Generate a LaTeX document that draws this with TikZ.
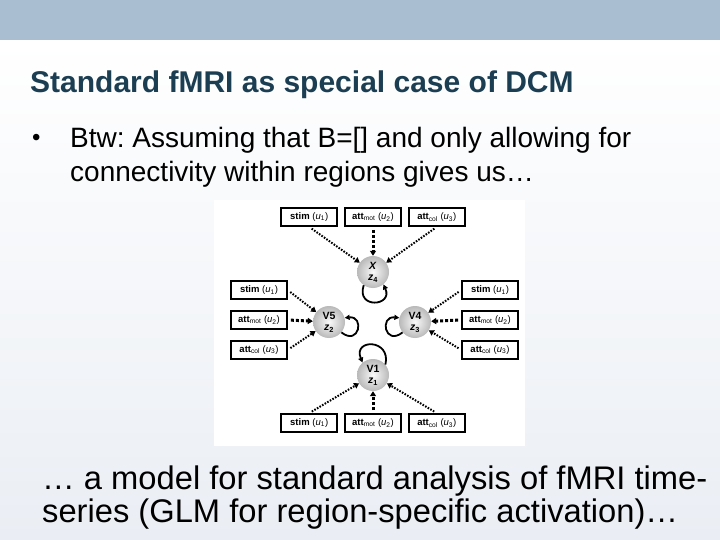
\documentclass[tikz,border=0pt]{standalone}
\usepackage{fontspec}
\setmainfont{Liberation Sans}
\usepackage{tikz}
\usetikzlibrary{arrows.meta, positioning, shadings}
\definecolor{bandblue}{RGB}{170, 190, 209}
\definecolor{titleteal}{RGB}{28, 62, 82}
\definecolor{slidebottom}{RGB}{234, 238, 244}
\definecolor{sphereedge}{RGB}{185, 185, 185}
\frenchspacing

\begin{document}
\begin{tikzpicture}[
    x=1pt, y=-1pt,
    inputbox/.style={draw=black, line width=1.8pt, fill=white, minimum width=56pt,
                     minimum height=18pt, inner sep=1pt, font=\fontsize{9.5}{10}\selectfont},
    region/.style={circle, minimum size=32pt, inner sep=0pt, inner color=gray!4,
                   outer color=sphereedge, align=center,
                   font=\fontsize{10.5}{11.5}\selectfont\bfseries},
    dotarrow/.style={-{Triangle[length=5pt,width=6pt]}, line width=2pt,
                     dash pattern=on 1.6pt off 1.4pt, shorten <=3pt},
    dasharrow/.style={-{Triangle[length=5pt,width=6pt]}, line width=3pt,
                      dash pattern=on 3pt off 2pt, shorten <=3pt},
    selfloop/.style={-{Triangle[length=5pt,width=5pt]}, line width=1.8pt},
    slidetext/.style={anchor=base west, inner sep=0pt, font=\fontsize{28}{34}\selectfont}
]
    \useasboundingbox (0,0) rectangle (720,540);
    % slide background
    \shade[top color=white, bottom color=slidebottom] (0,40) rectangle (720,540);
    \fill[bandblue] (0,0) rectangle (720,40);

    \node[anchor=base west, inner sep=0pt, text=titleteal,
          font=\fontsize{30}{36}\selectfont\bfseries] (title) at (30,93)
          {Standard fMRI as special case of DCM};
    \node[slidetext, font=\fontsize{24}{28}\selectfont] (bullet) at (32,146) {\textbullet};
    \node[slidetext] (lineA) at (70,148) {Btw: Assuming that B=[] and only allowing for};
    \node[slidetext] (lineB) at (70,182) {connectivity within regions gives us\dots};

    % figure
    \fill[white] (214,200) rectangle (525,446);

    \node[region] (X) at (373,272) {\textit{X}\\\textit{z}\textsubscript{4}};
    \node[region] (V5) at (329,322) {V5\\\textit{z}\textsubscript{2}};
    \node[region] (V4) at (415,322) {V4\\\textit{z}\textsubscript{3}};
    \node[region] (V1) at (373,375) {V1\\\textit{z}\textsubscript{1}};

    \node[inputbox] (motT) at (373,217) {\textbf{att}\textsubscript{mot} (\textit{u}\textsubscript{2})};
    \node[inputbox, left=6pt of motT] (stimT) {\textbf{stim} (\textit{u}\textsubscript{1})};
    \node[inputbox, right=6pt of motT] (colT) {\textbf{att}\textsubscript{col} (\textit{u}\textsubscript{3})};

    \node[inputbox] (motL) at (259,320) {\textbf{att}\textsubscript{mot} (\textit{u}\textsubscript{2})};
    \node[inputbox, above=10pt of motL] (stimL) {\textbf{stim} (\textit{u}\textsubscript{1})};
    \node[inputbox, below=10pt of motL] (colL) {\textbf{att}\textsubscript{col} (\textit{u}\textsubscript{3})};

    \node[inputbox] (motR) at (490,320) {\textbf{att}\textsubscript{mot} (\textit{u}\textsubscript{2})};
    \node[inputbox, above=10pt of motR] (stimR) {\textbf{stim} (\textit{u}\textsubscript{1})};
    \node[inputbox, below=10pt of motR] (colR) {\textbf{att}\textsubscript{col} (\textit{u}\textsubscript{3})};

    \node[inputbox] (motB) at (373,423) {\textbf{att}\textsubscript{mot} (\textit{u}\textsubscript{2})};
    \node[inputbox, left=6pt of motB] (stimB) {\textbf{stim} (\textit{u}\textsubscript{1})};
    \node[inputbox, right=6pt of motB] (colB) {\textbf{att}\textsubscript{col} (\textit{u}\textsubscript{3})};

    % driving inputs
    \draw[dotarrow] (stimT.south) -- (X);
    \draw[dasharrow] (motT.south) -- (X);
    \draw[dotarrow] (colT.south) -- (X);
    \draw[dotarrow] (stimL.east) -- (V5);
    \draw[dasharrow] (motL.east) -- (V5);
    \draw[dotarrow] (colL.east) -- (V5);
    \draw[dotarrow] (stimR.west) -- (V4);
    \draw[dasharrow] (motR.west) -- (V4);
    \draw[dotarrow] (colR.west) -- (V4);
    \draw[dotarrow] (stimB.north) -- (V1);
    \draw[dasharrow] (motB.north) -- (V1);
    \draw[dotarrow] (colB.north) -- (V1);

    % self connections
    \draw[selfloop] (X.235) .. controls +(-8,24) and +(10,22) .. (X.-50);
    \draw[selfloop] (V5.-40) .. controls +(18,14) and +(20,-2) .. (V5.15);
    \draw[selfloop] (V4.220) .. controls +(-18,14) and +(-20,-2) .. (V4.165);
    \draw[selfloop] (V1.40) .. controls +(6,-26) and +(-10,-24) .. (V1.130);

    \node[slidetext, font=\fontsize{32.7}{33}\selectfont] (lineC) at (42,489)
          {\dots{} a model for standard analysis of fMRI time-};
    \node[slidetext, font=\fontsize{32.7}{33}\selectfont] (lineD) at (42,522)
          {series (GLM for region-specific activation)\dots};
\end{tikzpicture}
\end{document}
